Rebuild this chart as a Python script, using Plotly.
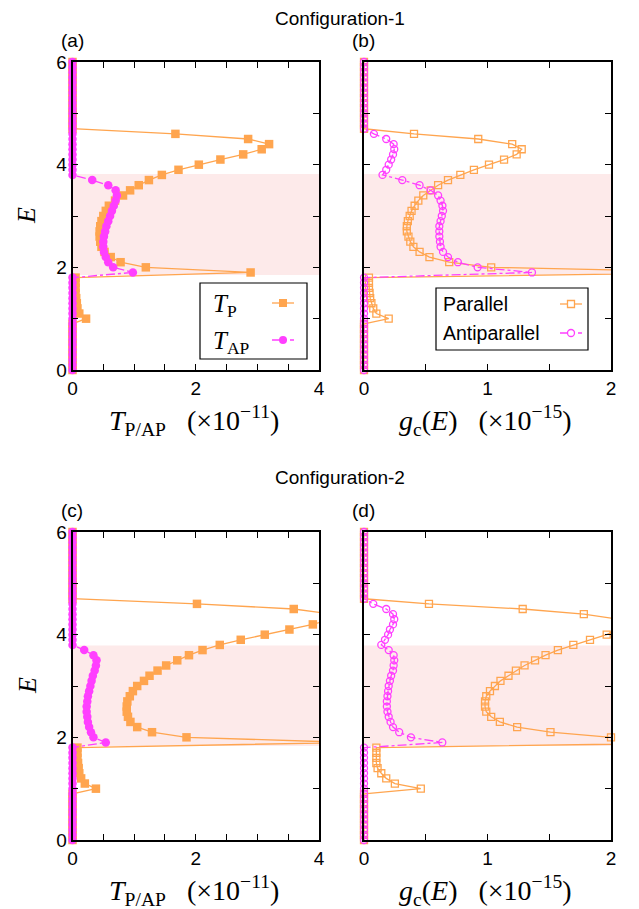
import plotly.graph_objects as go

# ---------------- data ----------------
E = [0.0, 0.1, 0.2, 0.3, 0.4, 0.5, 0.6, 0.7, 0.8, 0.9,
     1.0, 1.1, 1.2, 1.3, 1.4, 1.5, 1.6, 1.7, 1.8, 1.9,
     2.0, 2.1, 2.2, 2.3, 2.4, 2.5, 2.6, 2.7, 2.8, 2.9,
     3.0, 3.1, 3.2, 3.3, 3.4, 3.5, 3.6, 3.7, 3.8, 3.9,
     4.0, 4.1, 4.2, 4.3, 4.4, 4.5, 4.6, 4.7, 4.8, 4.9,
     5.0, 5.1, 5.2, 5.3, 5.4, 5.5, 5.6, 5.7, 5.8, 5.9, 6.0]

# Configuration-1, transmission (x 1e-11)
c1_TP = [0, 0, 0, 0, 0, 0, 0, 0, 0, 0,
         0.22, 0.11, 0.08, 0.07, 0.06, 0.05, 0.05, 0.05, 0.05, 2.89,
         1.19, 0.78, 0.62, 0.52, 0.47, 0.45, 0.44, 0.44, 0.45, 0.47,
         0.50, 0.54, 0.59, 0.69, 0.82, 0.935, 1.075, 1.24, 1.45, 1.72,
         2.05, 2.40, 2.77, 3.07, 3.19, 2.85, 1.67, 0, 0, 0,
         0, 0, 0, 0, 0, 0, 0, 0, 0, 0, 0]
c1_TAP = [0, 0, 0, 0, 0, 0, 0, 0, 0, 0,
          0, 0, 0, 0, 0, 0, 0, 0, 0, 0.98,
          0.66, 0.58, 0.54, 0.51, 0.50, 0.50, 0.51, 0.53, 0.55, 0.58,
          0.61, 0.64, 0.67, 0.70, 0.72, 0.70, 0.58, 0.32, 0, 0,
          0, 0, 0, 0, 0, 0, 0, 0, 0, 0,
          0, 0, 0, 0, 0, 0, 0, 0, 0, 0, 0]
# Configuration-1, g_c(E) (x 1e-15)
c1_gP = [0, 0, 0, 0, 0, 0, 0, 0, 0, 0,
         0.20, 0.10, 0.075, 0.06, 0.05, 0.045, 0.04, 0.04, 0.04, 3.0,
         1.03, 0.69, 0.53, 0.45, 0.40, 0.375, 0.36, 0.347, 0.347, 0.355,
         0.37, 0.385, 0.41, 0.44, 0.48, 0.54, 0.60, 0.68, 0.78, 0.89,
         1.012, 1.134, 1.236, 1.277, 1.20, 0.925, 0.405, 0, 0, 0,
         0, 0, 0, 0, 0, 0, 0, 0, 0, 0, 0]
c1_gAP = [0, 0, 0, 0, 0, 0, 0, 0, 0, 0,
          0, 0, 0, 0, 0, 0, 0, 0, 0, 1.36,
          0.92, 0.76, 0.68, 0.64, 0.62, 0.615, 0.61, 0.61, 0.61, 0.62,
          0.63, 0.64, 0.635, 0.62, 0.60, 0.54, 0.45, 0.31, 0.15, 0.18,
          0.20, 0.22, 0.235, 0.245, 0.24, 0.18, 0.08, 0, 0, 0,
          0, 0, 0, 0, 0, 0, 0, 0, 0, 0, 0]

# Configuration-2
c2_TP = [0, 0, 0, 0, 0, 0, 0, 0, 0, 0,
         0.38, 0.20, 0.14, 0.11, 0.10, 0.09, 0.08, 0.08, 0.08, 4.5,
         1.85, 1.29, 1.05, 0.94, 0.90, 0.88, 0.88, 0.89, 0.93, 0.98,
         1.05, 1.16, 1.25, 1.38, 1.52, 1.70, 1.89, 2.11, 2.39, 2.73,
         3.12, 3.52, 3.90, 4.18, 4.22, 3.59, 2.02, 0, 0, 0,
         0, 0, 0, 0, 0, 0, 0, 0, 0, 0, 0]
c2_TAP = [0, 0, 0, 0, 0, 0, 0, 0, 0, 0,
          0, 0, 0, 0, 0, 0, 0, 0, 0, 0.54,
          0.34, 0.30, 0.27, 0.25, 0.24, 0.23, 0.23, 0.24, 0.25, 0.27,
          0.29, 0.31, 0.33, 0.36, 0.38, 0.39, 0.34, 0.19, 0, 0,
          0, 0, 0, 0, 0, 0, 0, 0, 0, 0,
          0, 0, 0, 0, 0, 0, 0, 0, 0, 0, 0]
c2_gP = [0, 0, 0, 0, 0, 0, 0, 0, 0, 0,
         0.46, 0.25, 0.18, 0.14, 0.11, 0.10, 0.10, 0.10, 0.10, 3.0,
         2.0, 1.51, 1.24, 1.10, 1.03, 0.99, 0.98, 0.98, 0.99, 1.02,
         1.06, 1.105, 1.17, 1.23, 1.30, 1.385, 1.47, 1.57, 1.695, 1.83,
         1.965, 2.05, 2.10, 2.06, 1.78, 1.285, 0.526, 0, 0, 0,
         0, 0, 0, 0, 0, 0, 0, 0, 0, 0, 0]
c2_gAP = [0, 0, 0, 0, 0, 0, 0, 0, 0, 0,
          0, 0, 0, 0, 0, 0, 0, 0, 0, 0.634,
          0.38, 0.285, 0.235, 0.215, 0.20, 0.19, 0.185, 0.185, 0.19, 0.195,
          0.20, 0.21, 0.22, 0.235, 0.24, 0.245, 0.24, 0.20, 0.14, 0.17,
          0.195, 0.21, 0.235, 0.245, 0.235, 0.18, 0.075, 0, 0, 0,
          0, 0, 0, 0, 0, 0, 0, 0, 0, 0, 0]

band1 = [1.85, 3.82]
band2 = [1.83, 3.79]

T_range = [0, 4]
g_range = [0, 2]
E_range = [0, 6]

titles = ["Configuration-1", "Configuration-2"]
panel_labels = ["(a)", "(b)", "(c)", "(d)"]

# ---------------- styling ----------------
W, H = 639, 909
OFF = 8  # page body margin of the default html page
ORANGE = "#ffa54f"
MAGENTA = "#ff3fff"
BAND = "#fdeaea"
SANS = "Liberation Sans, Arial, sans-serif"
SERIF = "Liberation Serif, Times New Roman, serif"


def pxx(x):
    return (x - OFF) / W


def pxy(y):
    return 1 - (y - OFF) / H


COLS = [(72.5, 319.0), (364.0, 611.0)]
ROWS = [(62.0, 370.0), (532.0, 840.0)]

fig = go.Figure()

panels = [
    dict(ax="", row=0, col=0, P=c1_TP, AP=c1_TAP, rng=T_range, filled=True, band=band1, dt=2),
    dict(ax="2", row=0, col=1, P=c1_gP, AP=c1_gAP, rng=g_range, filled=False, band=band1, dt=1),
    dict(ax="3", row=1, col=0, P=c2_TP, AP=c2_TAP, rng=T_range, filled=True, band=band2, dt=2),
    dict(ax="4", row=1, col=1, P=c2_gP, AP=c2_gAP, rng=g_range, filled=False, band=band2, dt=1),
]

shapes = []
annotations = []

for i, p in enumerate(panels):
    xa = "x" + p["ax"]
    ya = "y" + p["ax"]
    xmax = p["rng"][1]
    for vals, color, sym_f, sym_o, dash in [
        (p["P"], ORANGE, "square", "square-open", "solid"),
        (p["AP"], MAGENTA, "circle", "circle-open", "dashdot"),
    ]:
        op = [1.0 if v <= xmax else 0.0 for v in vals]
        if p["filled"]:
            marker = dict(symbol=sym_f, size=8.5, color=color, opacity=op, line=dict(width=0))
        else:
            marker = dict(symbol=sym_o, size=7, color=color, opacity=op, line=dict(width=1.3, color=color))
        fig.add_trace(go.Scatter(
            x=vals, y=E, xaxis=xa, yaxis=ya, mode="lines+markers",
            line=dict(color=color, width=1.3, dash=dash),
            marker=marker, cliponaxis=False, showlegend=False, hoverinfo="skip"))

    x0, x1 = COLS[p["col"]]
    y0, y1 = ROWS[p["row"]]
    axis_common = dict(
        showline=True, linecolor="black", linewidth=1.6, mirror="ticks",
        ticks="inside", ticklen=6, tickwidth=1.3, tickcolor="black",
        showgrid=False, zeroline=False, automargin=False,
        tickfont=dict(family=SANS, size=19, color="black"),
    )
    fig.layout["xaxis" + p["ax"]] = dict(
        axis_common, domain=[pxx(x0), pxx(x1)], range=p["rng"], anchor=ya,
        tickmode="linear", tick0=0, dtick=p["dt"],
        minor=dict(dtick=0.5, tick0=0, ticks="inside", ticklen=6, tickwidth=1.3,
                   tickcolor="black", showgrid=False))
    fig.layout["yaxis" + p["ax"]] = dict(
        axis_common, domain=[pxy(y1), pxy(y0)], range=E_range, anchor=xa,
        tickmode="linear", tick0=0, dtick=2,
        showticklabels=(p["col"] == 0),
        minor=dict(dtick=1, tick0=0, ticks="inside", ticklen=6, tickwidth=1.3,
                   tickcolor="black", showgrid=False))

    shapes.append(dict(type="rect", xref=xa + " domain", yref=ya, x0=0, x1=1,
                       y0=p["band"][0], y1=p["band"][1], fillcolor=BAND,
                       line=dict(width=0), layer="below"))

    # panel label
    annotations.append(dict(text=panel_labels[i], x=pxx(x0 - 0.5), y=pxy(y0 - 22),
                            xref="paper", yref="paper", showarrow=False,
                            font=dict(family=SANS, size=19, color="black"),
                            xanchor="center", yanchor="middle"))
    # x-axis title
    if p["col"] == 0:
        xt = "<i>T</i><sub>P/AP</sub>   (×10<sup>−11</sup>)"
    else:
        xt = "<i>g</i><sub>c</sub>(<i>E</i>)   (×10<sup>−15</sup>)"
    annotations.append(dict(text=xt, x=pxx((x0 + x1) / 2 - 2), y=pxy(y1 + 50),
                            xref="paper", yref="paper", showarrow=False,
                            font=dict(family=SERIF, size=28, color="black"),
                            xanchor="center", yanchor="middle"))
    if p["col"] == 0:
        annotations.append(dict(text="<i>E</i>", x=pxx(27), y=pxy((y0 + y1) / 2),
                                xref="paper", yref="paper", showarrow=False, textangle=-90,
                                font=dict(family=SERIF, size=26, color="black"),
                                xanchor="center", yanchor="middle"))

# row titles
annotations.append(dict(text=titles[0], x=pxx(340), y=pxy(19), xref="paper", yref="paper",
                        showarrow=False, font=dict(family=SANS, size=19, color="black"),
                        xanchor="center", yanchor="middle"))
annotations.append(dict(text=titles[1], x=pxx(340), y=pxy(478), xref="paper", yref="paper",
                        showarrow=False, font=dict(family=SANS, size=19, color="black"),
                        xanchor="center", yanchor="middle"))


# ---------------- legends (drawn manually, gnuplot style) ----------------
def box(xa, xb, ya, yb):
    shapes.append(dict(type="rect", xref="paper", yref="paper", x0=pxx(xa), x1=pxx(xb),
                       y0=pxy(yb), y1=pxy(ya), fillcolor="white",
                       line=dict(color="black", width=1.2), layer="above"))


def sample(xa, xb, y, color, dash, kind, filled, size):
    shapes.append(dict(type="line", xref="paper", yref="paper", x0=pxx(xa), x1=pxx(xb),
                       y0=pxy(y), y1=pxy(y), line=dict(color=color, width=1.3, dash=dash),
                       layer="above"))
    xm = (xa + xb) / 2
    h = size / 2
    shapes.append(dict(type=kind, xref="paper", yref="paper", x0=pxx(xm - h), x1=pxx(xm + h),
                       y0=pxy(y + h), y1=pxy(y - h),
                       fillcolor=color if filled else "white",
                       line=dict(color=color, width=0 if filled else 1.3), layer="above"))


def label(text, x, y, family, size):
    annotations.append(dict(text=text, x=pxx(x), y=pxy(y), xref="paper", yref="paper",
                            showarrow=False, font=dict(family=family, size=size, color="black"),
                            xanchor="left", yanchor="middle"))


# panel (a)
box(200, 307, 283, 359)
label("<i>T</i><sub>P</sub>", 211, 305, SERIF, 25)
sample(272, 294, 303, ORANGE, "solid", "rect", True, 8)
label("<i>T</i><sub>AP</sub>", 211, 342, SERIF, 25)
sample(272, 294, 340, MAGENTA, "dashdot", "circle", True, 8)

# panel (b)
box(436, 588, 288, 350)
label("Parallel", 441, 304, SANS, 19.5)
sample(560, 582, 304, ORANGE, "solid", "rect", False, 7)
label("Antiparallel", 441, 333, SANS, 19.5)
sample(560, 582, 333, MAGENTA, "dashdot", "circle", False, 7)

fig.update_layout(
    width=W, height=H, margin=dict(l=0, r=0, t=0, b=0, autoexpand=False),
    paper_bgcolor="white", plot_bgcolor="white",
    shapes=shapes, annotations=annotations, showlegend=False,
)

fig.write_html("out.html")
